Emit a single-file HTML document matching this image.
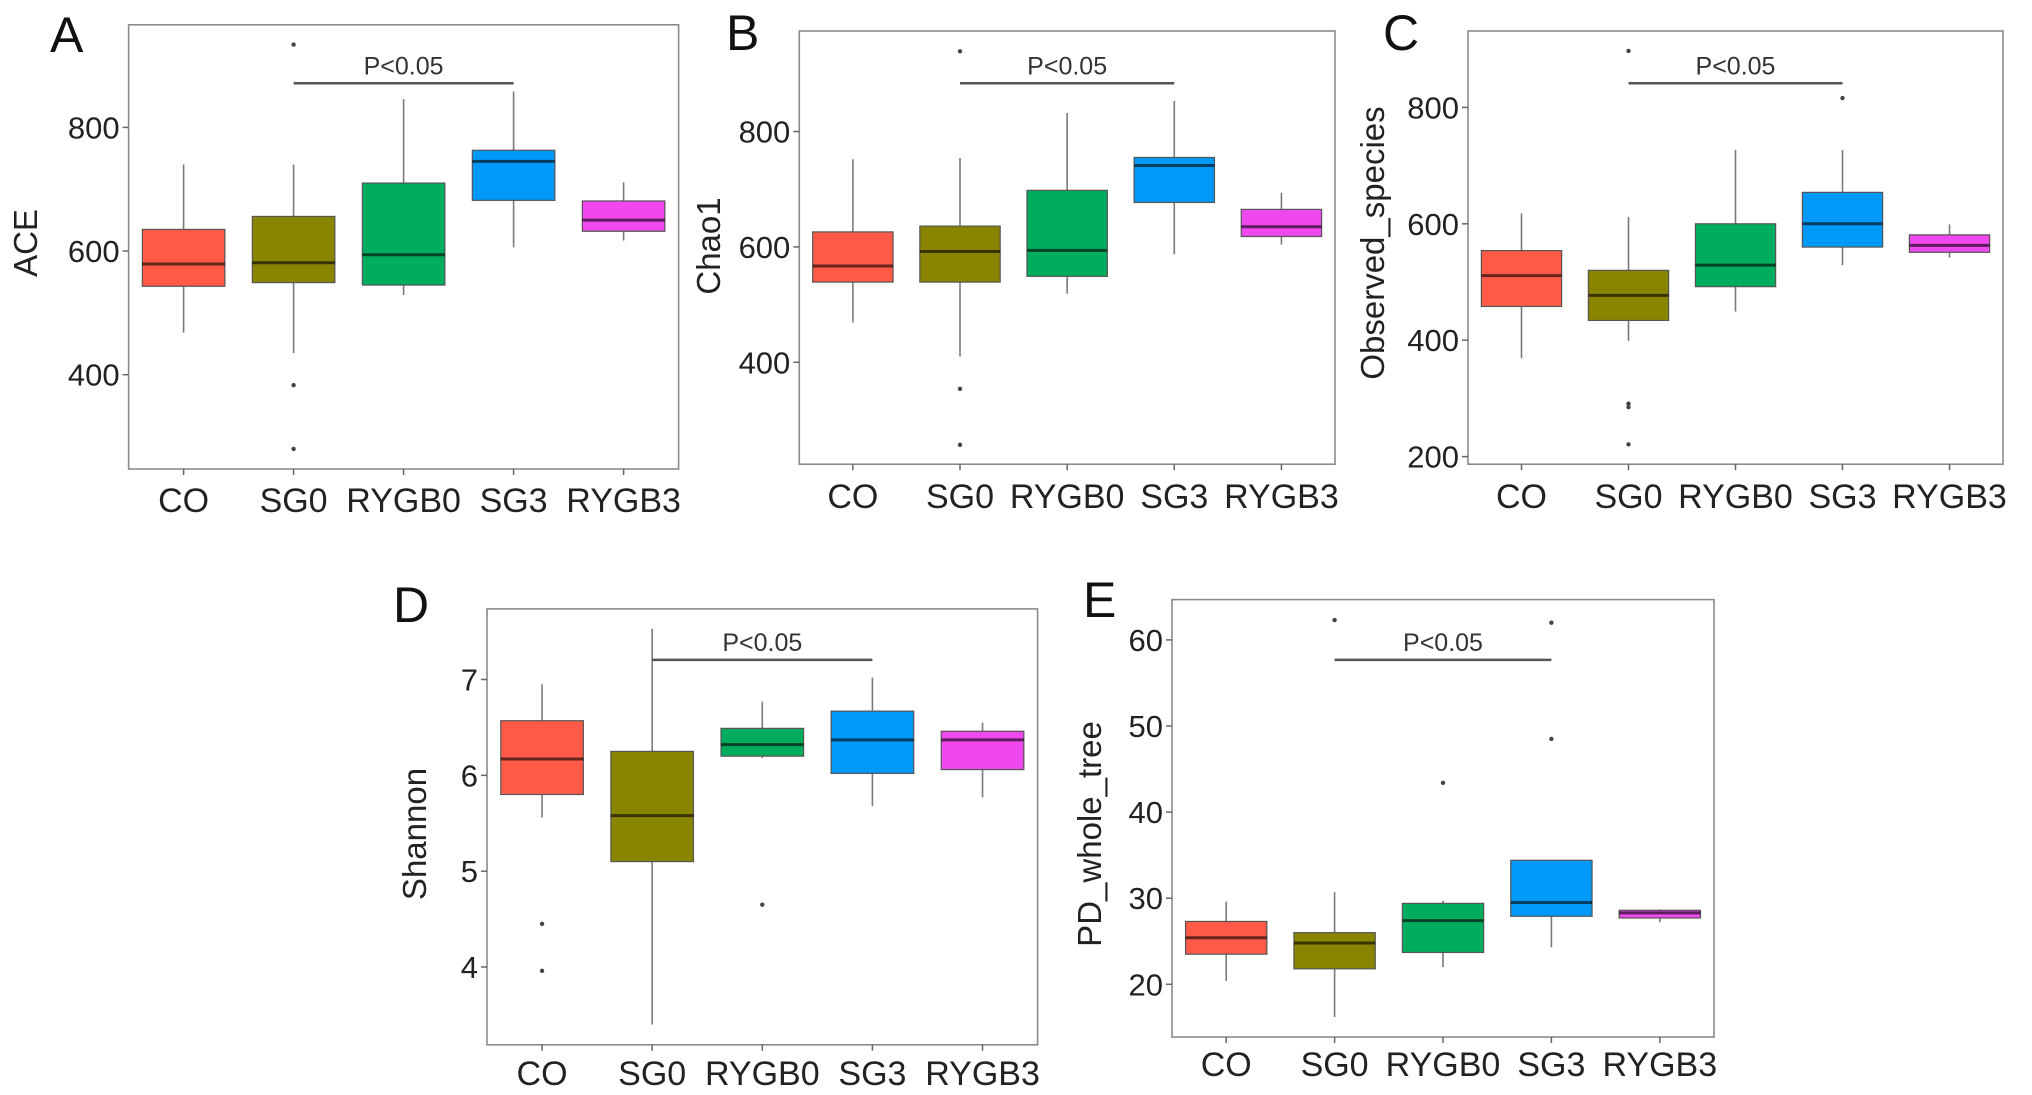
<!DOCTYPE html>
<html><head><meta charset="utf-8"><style>
html,body{margin:0;padding:0;background:#fff;}
svg{display:block;font-family:"Liberation Sans",Arial,sans-serif;}
</style></head><body>
<svg id="fig" width="2032" height="1095" viewBox="0 0 2032 1095" xmlns="http://www.w3.org/2000/svg"></svg>
<script>
const categories = ["CO","SG0","RYGB0","SG3","RYGB3"];
const colors = ["#ff5a47","#8a8500","#00ad5f","#0099f8","#ef48ef"];

// Panel A – ACE
const aTicks = [400,600,800];
const aLow  = [468,435,529,606,617];
const aQ1   = [543,549,545,682,632];
const aMed  = [579,581,594,745,650];
const aQ3   = [635,656,710,763,681];
const aHigh = [740,740,846,858,711];
const aOut  = [[1,934],[1,383],[1,280]];

// Panel B – Chao1
const bTicks = [400,600,800];
const bLow  = [469,410,519,587,604];
const bQ1   = [539,539,549,677,618];
const bMed  = [567,592,594,741,635];
const bQ3   = [626,636,698,755,665];
const bHigh = [752,754,832,853,694];
const bOut  = [[1,939],[1,354],[1,257]];

// Panel C – Observed_species
const cTicks = [200,400,600,800];
const cLow  = [369,399,449,529,542];
const cQ1   = [458,434,492,560,551];
const cMed  = [511,477,529,600,563];
const cQ3   = [554,520,600,654,581];
const cHigh = [618,612,727,727,599];
const cOut  = [[1,897],[1,291],[1,285],[1,221],[3,816]];

// Panel D – Shannon
const dTicks = [4,5,6,7];
const dLow  = [5.56,3.40,6.18,5.68,5.77];
const dQ1   = [5.80,5.10,6.20,6.02,6.06];
const dMed  = [6.17,5.58,6.32,6.37,6.37];
const dQ3   = [6.57,6.25,6.49,6.67,6.46];
const dHigh = [6.95,7.53,6.77,7.02,6.55];
const dOut  = [[0,4.45],[0,3.96],[2,4.65]];

// Panel E – PD_whole_tree
const eTicks = [20,30,40,50,60];
const eLow  = [20.4,16.2,22.0,24.3,27.2];
const eQ1   = [23.5,21.8,23.7,27.9,27.7];
const eMed  = [25.4,24.8,27.4,29.5,28.3];
const eQ3   = [27.3,26.0,29.4,34.4,28.6];
const eHigh = [29.6,30.7,29.7,34.4,28.7];
const eOut  = [[1,62.3],[2,43.4],[3,62.0],[3,48.5]];

const svg = document.getElementById('fig');
const NS = "http://www.w3.org/2000/svg";
function mk(tag, attrs, parent){
  const e = document.createElementNS(NS, tag);
  for (const k in attrs) e.setAttribute(k, attrs[k]);
  (parent||svg).appendChild(e);
  return e;
}

function panel(p){
  const g = mk('g', {});
  
  
  const y = v => p.y0px + (v - p.y0v) * (p.y1px - p.y0px) / (p.y1v - p.y0v);
  const sp = (p.right - p.left) / 5;
  const x = i => p.left + sp * (i + 0.5);
  const bw = sp * 0.75;

  const frame = mk('rect', {x:p.left, y:p.top, width:p.right-p.left, height:p.bottom-p.top, fill:'#fff', stroke:'#8a8a8a', 'stroke-width':1.6}, g);
  
  

  const letter = mk('text', {x:p.letterX, y:p.letterY, 'font-size':50, fill:'#111'}, g);
  letter.textContent = p.letter;
  
  

  p.ticks.forEach(t => {
    const yy = y(t);
    const tl = mk('line', {x1:p.left-6, x2:p.left, y1:yy, y2:yy, stroke:'#666', 'stroke-width':1.5}, g);
    
    
    const tx = mk('text', {x:p.left-9, y:yy+11, 'font-size':31, 'text-anchor':'end', fill:'#222'}, g);
    tx.textContent = t;
    
    
  });

  const yt = mk('text', {x:0, y:0, 'font-size':33, 'text-anchor':'middle', fill:'#222', transform:`translate(${p.titleX},${p.titleY}) rotate(-90)`}, g);
  yt.textContent = p.title;
  
  

  categories.forEach((c,i) => {
    const xx = x(i);
    const tm = mk('line', {x1:xx, x2:xx, y1:p.bottom, y2:p.bottom+6, stroke:'#666', 'stroke-width':1.5}, g);
    
    
    const lb = mk('text', {x:xx, y:p.xLabelY, 'font-size':34, 'text-anchor':'middle', fill:'#222'}, g);
    lb.textContent = c;
    
    
  });

  categories.forEach((c,i) => {
    const xx = x(i);
    const bg = mk('g', {}, g);
    
    
    const w = mk('line', {x1:xx, x2:xx, y1:y(p.high[i]), y2:y(p.low[i]), stroke:'#7a7a7a', 'stroke-width':1.6}, bg);
    
    
    const r = mk('rect', {x:xx-bw/2, y:y(p.q3[i]), width:bw, height:y(p.q1[i])-y(p.q3[i]), fill:colors[i], stroke:'#555', 'stroke-width':1.2}, bg);
    
    
    const m = mk('line', {x1:xx-bw/2, x2:xx+bw/2, y1:y(p.med[i]), y2:y(p.med[i]), stroke:'#000', 'stroke-opacity':0.6, 'stroke-width':3}, bg);
    
    
  });
  p.out.forEach(o => {
    const d = mk('circle', {cx:x(o[0]), cy:y(o[1]), r:2.2, fill:'#444'}, g);
    
    
  });

  const sb = mk('line', {x1:x(1), x2:x(3), y1:p.sigY, y2:p.sigY, stroke:'#555', 'stroke-width':2.5}, g);
  
  
  const st = mk('text', {x:(x(1)+x(3))/2, y:p.sigY-9, 'font-size':25, 'text-anchor':'middle', fill:'#333'}, g);
  st.textContent = 'P<0.05';
  
  
}

panel({letter:'A', title:'ACE', left:128.6, right:678.6, top:24.8, bottom:469,
  y0v:800, y0px:127.4, y1v:400, y1px:374.7, ticks:aTicks,
  low:aLow, q1:aQ1, med:aMed, q3:aQ3, high:aHigh, out:aOut,
  letterX:50, letterY:52, titleX:37, titleY:243, xLabelY:512, sigY:83.3});
panel({letter:'B', title:'Chao1', left:799.3, right:1335, top:31, bottom:464.2,
  y0v:800, y0px:131.5, y1v:400, y1px:362.3, ticks:bTicks,
  low:bLow, q1:bQ1, med:bMed, q3:bQ3, high:bHigh, out:bOut,
  letterX:726, letterY:50, titleX:720, titleY:246, xLabelY:508, sigY:83.3});
panel({letter:'C', title:'Observed_species', left:1468, right:2003, top:31, bottom:464.2,
  y0v:800, y0px:107.4, y1v:200, y1px:456.6, ticks:cTicks,
  low:cLow, q1:cQ1, med:cMed, q3:cQ3, high:cHigh, out:cOut,
  letterX:1383, letterY:50, titleX:1384, titleY:243, xLabelY:508, sigY:83.3});
panel({letter:'D', title:'Shannon', left:487, right:1037.6, top:608.9, bottom:1044.8,
  y0v:7, y0px:679.5, y1v:4, y1px:967, ticks:dTicks,
  low:dLow, q1:dQ1, med:dMed, q3:dQ3, high:dHigh, out:dOut,
  letterX:393, letterY:622, titleX:426, titleY:834, xLabelY:1085, sigY:659.9});
panel({letter:'E', title:'PD_whole_tree', left:1172, right:1714, top:599.6, bottom:1037,
  y0v:60, y0px:639.9, y1v:20, y1px:984.3, ticks:eTicks,
  low:eLow, q1:eQ1, med:eMed, q3:eQ3, high:eHigh, out:eOut,
  letterX:1083, letterY:617, titleX:1101, titleY:834, xLabelY:1076, sigY:659.9});
</script>
</body></html>
